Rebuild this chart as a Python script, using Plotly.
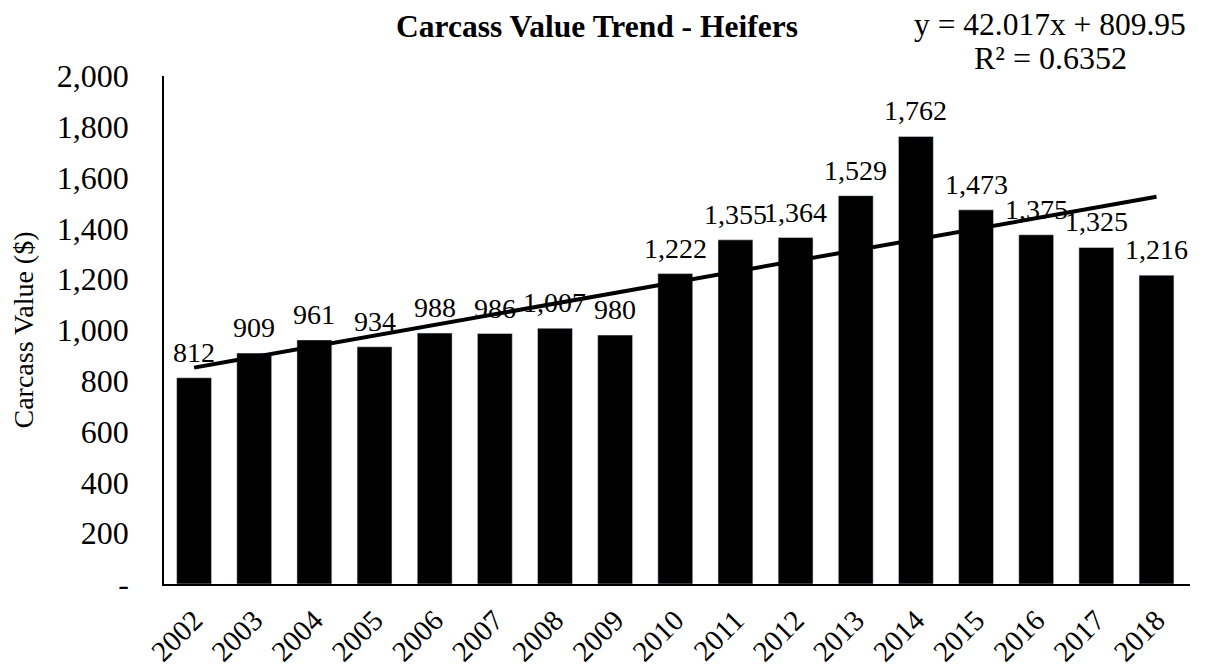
import plotly.graph_objects as go

years = [str(y) for y in range(2002, 2019)]
values = [812, 909, 961, 934, 988, 986, 1007, 980, 1222, 1355, 1364, 1529, 1762, 1473, 1375, 1325, 1216]
y_ticks = [0, 200, 400, 600, 800, 1000, 1200, 1400, 1600, 1800, 2000]
y_ticktext = ["-", "200", "400", "600", "800", "1,000", "1,200", "1,400", "1,600", "1,800", "2,000"]

# Linear trendline as reported on the chart
trend_slope = 42.017
trend_intercept = 809.95
trend_r2 = 0.6352
trend_x = [years[0], years[-1]]
trend_y = [trend_slope * 1 + trend_intercept, trend_slope * len(values) + trend_intercept]

font = "Liberation Serif, Times New Roman, serif"

W, H = 1200, 663  # page body has an 8px margin

fig = go.Figure()
fig.add_trace(go.Bar(x=years, y=values, marker_color="black", showlegend=False))
fig.add_trace(go.Scatter(x=trend_x, y=trend_y, mode="lines",
                         line=dict(color="black", width=4), showlegend=False))

# data labels (category index used as x position on the category axis)
for i, v in enumerate(values):
    fig.add_annotation(x=i, y=v, text=f"{v:,}", showarrow=False, yanchor="bottom",
                       yshift=8, font=dict(family=font, size=28, color="black"))

fig.update_layout(
    width=W, height=H,
    margin=dict(l=156, r=18, t=68, b=87),
    paper_bgcolor="white", plot_bgcolor="white",
    bargap=0.42,
    font=dict(family=font, size=28, color="black"),
    title=dict(text="<b>Carcass Value Trend - Heifers</b>", x=0.422, xref="paper", xanchor="center",
               y=1 - 18 / H, yanchor="middle", font=dict(family=font, size=31.5, color="black")),
)
fig.add_annotation(text=f"y = {trend_slope:.3f}x + {trend_intercept:.2f}", xref="paper", yref="paper",
                   x=0.8636, y=1.102, xanchor="center", yanchor="middle", showarrow=False,
                   font=dict(family=font, size=31.5, color="black"))
fig.add_annotation(text=f"R² = {trend_r2:.4f}", xref="paper", yref="paper",
                   x=0.8636, y=1.036, xanchor="center", yanchor="middle", showarrow=False,
                   font=dict(family=font, size=32, color="black"))
fig.update_xaxes(type="category", automargin=False, showline=True, linecolor="black", linewidth=1.5,
                 tickangle=-45, showgrid=False, ticks="", ticklabelstandoff=6,
                 tickfont=dict(family=font, size=29))
fig.update_yaxes(range=[0, 2000], automargin=False, tickvals=y_ticks, ticktext=y_ticktext,
                 showline=True, linecolor="black", linewidth=1.5, showgrid=False,
                 zeroline=False, ticks="", ticklabelstandoff=27,
                 title=dict(text="Carcass Value ($)", font=dict(family=font, size=28), standoff=21),
                 tickfont=dict(family=font, size=32))

fig.write_html("out.html")
